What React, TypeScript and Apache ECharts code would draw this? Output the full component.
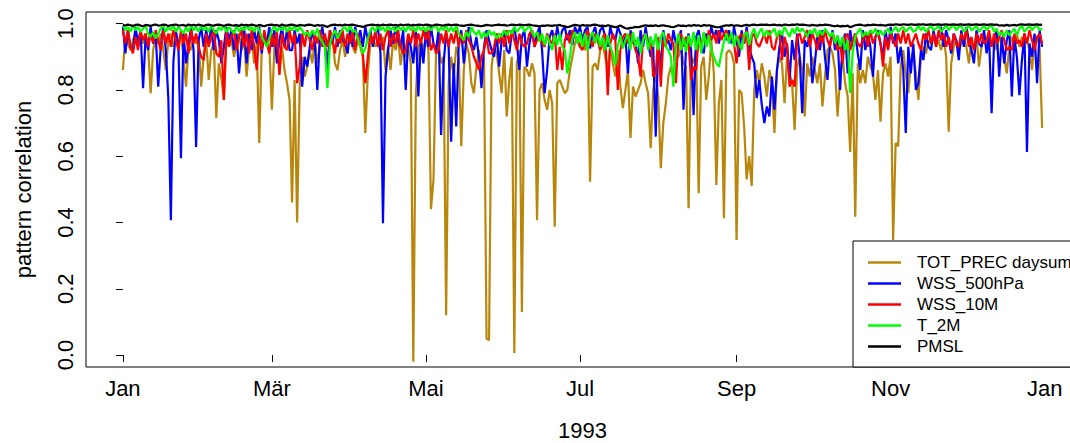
import React, { useEffect, useRef } from "react";
import * as echarts from "echarts";

// x positions are day-of-year indices (0 = 1 Jan 1993)
const tickDays = [0, 59, 120, 181, 243, 304, 365];
const tickLabels = ["Jan", "Mär", "Mai", "Jul", "Sep", "Nov", "Jan"];
const yTicks = [0, 0.2, 0.4, 0.6, 0.8, 1.0];

const totPrec = [
0.86,0.96,0.94,0.92,0.95,0.97,0.93,0.96,0.94,0.97,
0.93,0.79,0.92,0.96,0.94,0.97,0.92,0.86,0.95,0.97,
0.93,0.96,0.94,0.97,0.90,0.81,0.93,0.92,0.96,0.94,
0.95,0.81,0.90,0.95,0.83,0.92,0.94,0.715,0.88,0.835,
0.77,0.96,0.93,0.95,0.90,0.94,0.97,0.92,0.95,0.84,
0.93,0.96,0.88,0.94,0.64,0.93,0.96,0.95,0.93,0.74,
0.93,0.95,0.85,0.93,0.86,0.82,0.77,0.46,0.83,0.40,
0.81,0.90,0.84,0.87,0.92,0.88,0.95,0.88,0.93,0.96,
0.94,0.90,0.93,0.96,0.88,0.86,0.92,0.95,0.90,0.94,
0.96,0.93,0.91,0.95,0.93,0.90,0.67,0.85,0.94,0.96,
0.93,0.95,0.92,0.96,0.86,0.93,0.86,0.95,0.92,0.96,
0.875,0.94,0.90,0.93,0.88,-0.02,0.78,0.93,0.95,0.92,
0.96,0.92,0.44,0.53,0.91,0.94,0.88,0.90,0.12,0.82,
0.90,0.84,0.93,0.90,0.63,0.86,0.94,0.91,0.82,0.79,
0.87,0.92,0.85,0.90,0.05,0.045,0.87,0.93,0.91,0.85,
0.79,0.92,0.72,0.83,0.90,0.006,0.88,0.92,0.13,0.87,
0.86,0.84,0.88,0.85,0.407,0.80,0.82,0.77,0.74,0.80,
0.76,0.387,0.82,0.83,0.81,0.79,0.80,0.86,0.90,0.94,
0.96,0.93,0.95,0.92,0.96,0.523,0.87,0.88,0.86,0.92,
0.94,0.90,0.86,0.93,0.88,0.84,0.92,0.81,0.745,0.80,
0.86,0.655,0.81,0.78,0.80,0.82,0.86,0.82,0.79,0.624,
0.80,0.85,0.78,0.564,0.70,0.76,0.84,0.87,0.84,0.90,
0.90,0.93,0.88,0.87,0.443,0.90,0.88,0.92,0.488,0.87,
0.90,0.77,0.84,0.95,0.85,0.513,0.76,0.83,0.413,0.91,
0.92,0.91,0.88,0.347,0.80,0.79,0.69,0.53,0.60,0.51,
0.80,0.86,0.82,0.88,0.84,0.78,0.86,0.82,0.67,0.86,
0.90,0.88,0.76,0.90,0.85,0.82,0.679,0.87,0.90,0.86,
0.72,0.88,0.84,0.90,0.86,0.82,0.88,0.75,0.84,0.92,
0.93,0.91,0.86,0.72,0.84,0.90,0.82,0.78,0.613,0.85,
0.417,0.88,0.82,0.86,0.82,0.90,0.87,0.85,0.77,0.86,
0.704,0.85,0.88,0.84,0.90,0.347,0.64,0.63,0.87,0.92,
0.85,0.79,0.88,0.92,0.85,0.77,0.90,0.93,0.91,0.95,
0.94,0.96,0.93,0.95,0.92,0.96,0.90,0.674,0.88,0.93,
0.95,0.92,0.94,0.96,0.93,0.88,0.95,0.92,0.96,0.87,
0.93,0.96,0.94,0.97,0.93,0.95,0.92,0.96,0.94,0.90,
0.85,0.93,0.96,0.94,0.97,0.93,0.96,0.94,0.95,0.92,
0.86,0.94,0.96,0.93,0.685,
];

const wss500 = [
0.99,0.91,0.98,0.93,0.92,0.99,0.94,0.98,0.805,0.96,
0.92,0.99,0.94,0.97,0.81,0.93,0.99,0.92,0.775,0.407,
0.885,0.98,0.93,0.594,0.97,0.88,0.94,0.99,0.92,0.628,
0.95,0.99,0.93,0.98,0.94,0.99,0.92,0.98,0.95,0.88,
0.93,0.99,0.95,0.98,0.92,0.97,0.85,0.94,0.99,0.88,
0.97,0.92,0.98,0.94,0.99,0.91,0.97,0.94,0.99,0.93,
0.98,0.88,0.95,0.99,0.93,0.98,0.92,0.92,0.98,0.94,
0.97,0.81,0.90,0.87,0.93,0.98,0.94,0.80,0.96,0.99,
0.93,0.86,0.98,0.94,0.99,0.93,0.98,0.95,0.94,0.91,
0.98,0.93,0.99,0.95,0.98,0.93,0.99,0.95,0.98,0.93,
0.97,0.99,0.91,0.398,0.84,0.92,0.98,0.94,0.99,0.95,
0.93,0.98,0.80,0.96,0.93,0.88,0.98,0.78,0.95,0.88,
0.98,0.93,0.99,0.94,0.92,0.98,0.664,0.88,0.97,0.93,
0.644,0.88,0.69,0.94,0.98,0.88,0.95,0.99,0.94,0.92,
0.96,0.90,0.805,0.93,0.98,0.95,0.92,0.90,0.97,0.87,
0.95,0.98,0.92,0.91,0.97,0.99,0.94,0.86,0.96,0.98,
0.87,0.94,0.98,0.93,0.97,0.99,0.92,0.79,0.86,0.96,
0.98,0.94,0.99,0.95,0.98,0.99,0.95,0.98,0.935,0.99,
0.97,0.99,0.95,0.98,0.99,0.925,0.97,0.99,0.95,0.98,
0.99,0.96,0.93,0.99,0.96,0.95,0.99,0.97,0.94,0.96,
0.85,0.98,0.94,0.95,0.88,0.98,0.93,0.99,0.94,0.90,
0.93,0.659,0.95,0.86,0.98,0.94,0.95,0.92,0.98,0.94,
0.95,0.98,0.74,0.93,0.97,0.92,0.724,0.96,0.98,0.93,
0.91,0.97,0.95,0.99,0.96,0.98,0.94,0.99,0.97,0.95,
0.98,0.94,0.99,0.95,0.90,0.98,0.94,0.99,0.93,0.90,
0.88,0.775,0.83,0.755,0.70,0.75,0.72,0.84,0.74,0.86,
0.93,0.97,0.90,0.94,0.83,0.95,0.89,0.97,0.90,0.73,
0.95,0.93,0.97,0.82,0.88,0.96,0.92,0.98,0.90,0.83,
0.94,0.98,0.92,0.96,0.80,0.94,0.97,0.85,0.98,0.93,
0.97,0.91,0.86,0.98,0.92,0.97,0.93,0.84,0.96,0.98,
0.94,0.90,0.98,0.93,0.99,0.94,0.97,0.88,0.93,0.86,
0.67,0.93,0.85,0.94,0.80,0.82,0.92,0.89,0.97,0.93,
0.92,0.98,0.94,0.97,0.99,0.93,0.98,0.95,0.91,0.97,
0.95,0.89,0.98,0.93,0.99,0.95,0.92,0.88,0.98,0.94,
0.93,0.98,0.91,0.96,0.73,0.95,0.98,0.84,0.96,0.88,
0.95,0.98,0.78,0.96,0.90,0.784,0.89,0.97,0.613,0.94,
0.90,0.97,0.82,0.98,0.93,
];

const wss10 = [
0.98,0.94,0.98,0.93,0.91,0.96,0.92,0.98,0.95,0.97,
0.93,0.97,0.94,0.98,0.95,0.92,0.98,0.94,0.97,0.93,
0.98,0.95,0.92,0.98,0.94,0.97,0.91,0.98,0.94,0.97,
0.93,0.90,0.89,0.97,0.93,0.96,0.98,0.91,0.90,0.95,
0.77,0.98,0.93,0.96,0.98,0.92,0.96,0.98,0.93,0.97,
0.91,0.98,0.93,0.86,0.97,0.92,0.98,0.94,0.91,0.97,
0.93,0.98,0.845,0.97,0.93,0.92,0.98,0.94,0.97,0.82,
0.87,0.97,0.93,0.98,0.95,0.92,0.97,0.94,0.98,0.93,
0.97,0.93,0.98,0.95,0.91,0.97,0.94,0.98,0.93,0.97,
0.94,0.98,0.92,0.97,0.94,0.91,0.82,0.90,0.97,0.94,
0.98,0.93,0.97,0.92,0.96,0.98,0.93,0.97,0.94,0.98,
0.93,0.91,0.92,0.97,0.94,0.98,0.93,0.97,0.94,0.98,
0.95,0.98,0.92,0.94,0.91,0.92,0.97,0.94,0.98,0.93,
0.97,0.94,0.98,0.93,0.97,0.94,0.98,0.95,0.93,0.90,
0.88,0.86,0.90,0.92,0.96,0.91,0.91,0.93,0.97,0.94,
0.97,0.93,0.98,0.94,0.98,0.95,0.92,0.97,0.94,0.93,
0.94,0.97,0.98,0.93,0.95,0.97,0.94,0.93,0.97,0.95,
0.94,0.97,0.86,0.93,0.86,0.95,0.97,0.94,0.98,0.96,
0.95,0.93,0.92,0.96,0.98,0.95,0.93,0.97,0.95,0.92,
0.96,0.97,0.784,0.94,0.97,0.95,0.80,0.92,0.96,0.97,
0.94,0.97,0.95,0.92,0.90,0.84,0.96,0.97,0.93,0.96,
0.84,0.85,0.96,0.81,0.95,0.93,0.97,0.95,0.94,0.82,
0.96,0.97,0.93,0.96,0.94,0.83,0.87,0.86,0.96,0.93,
0.97,0.93,0.98,0.95,0.97,0.94,0.98,0.95,0.97,0.98,
0.95,0.97,0.94,0.88,0.96,0.97,0.94,0.98,0.86,0.96,
0.97,0.94,0.93,0.95,0.97,0.94,0.98,0.93,0.92,0.96,
0.97,0.89,0.96,0.93,0.81,0.83,0.81,0.96,0.97,0.94,
0.96,0.98,0.93,0.97,0.95,0.92,0.97,0.94,0.98,0.95,
0.93,0.97,0.95,0.92,0.94,0.88,0.96,0.97,0.92,0.95,
0.97,0.94,0.93,0.95,0.97,0.93,0.98,0.94,0.96,0.97,
0.94,0.87,0.96,0.92,0.97,0.95,0.93,0.97,0.94,0.98,
0.94,0.97,0.93,0.95,0.97,0.94,0.92,0.97,0.95,0.98,
0.94,0.97,0.93,0.98,0.95,0.97,0.93,0.96,0.92,0.97,
0.94,0.93,0.97,0.95,0.98,0.93,0.96,0.92,0.97,0.94,
0.97,0.94,0.95,0.98,0.93,0.97,0.94,0.96,0.98,0.95,
0.92,0.93,0.92,0.97,0.94,0.95,0.93,0.97,0.94,0.98,
0.95,0.92,0.96,0.97,0.94,
];

const t2m = [
0.995,0.98,0.99,0.975,0.995,0.98,0.99,0.975,0.985,0.995,
0.97,0.96,0.975,0.955,0.97,0.985,0.995,0.975,0.99,0.98,
0.995,0.975,0.99,0.98,0.97,0.99,0.975,0.995,0.98,0.99,
0.975,0.995,0.98,0.99,0.975,0.995,0.98,0.97,0.99,0.98,
0.995,0.975,0.99,0.98,0.97,0.995,0.975,0.99,0.98,0.995,
0.98,0.99,0.975,0.995,0.98,0.96,0.945,0.93,0.955,0.98,
0.995,0.975,0.99,0.98,0.995,0.975,0.99,0.98,0.995,0.975,
0.99,0.98,0.965,0.975,0.96,0.98,0.965,0.985,0.955,0.945,
0.93,0.805,0.94,0.965,0.98,0.955,0.97,0.985,0.99,0.975,
0.995,0.975,0.98,0.955,0.935,0.91,0.925,0.955,0.98,0.99,
0.975,0.995,0.98,0.99,0.975,0.995,0.98,0.99,0.975,0.995,
0.98,0.99,0.975,0.995,0.98,0.99,0.975,0.995,0.98,0.99,
0.975,0.995,0.98,0.99,0.995,0.975,0.99,0.98,0.995,0.975,
0.99,0.975,0.995,0.97,0.96,0.95,0.975,0.96,0.99,0.975,
0.965,0.98,0.955,0.975,0.96,0.98,0.965,0.975,0.955,0.97,
0.96,0.98,0.965,0.98,0.97,0.99,0.975,0.985,0.995,0.975,
0.985,0.995,0.975,0.96,0.975,0.945,0.97,0.935,0.965,0.94,
0.92,0.965,0.935,0.97,0.93,0.92,0.85,0.90,0.955,0.975,
0.94,0.975,0.93,0.97,0.92,0.96,0.975,0.94,0.97,0.93,
0.96,0.92,0.965,0.93,0.91,0.875,0.935,0.965,0.925,0.95,
0.97,0.92,0.975,0.93,0.96,0.91,0.95,0.97,0.92,0.96,
0.93,0.97,0.92,0.96,0.975,0.93,0.92,0.90,0.81,0.935,
0.97,0.92,0.96,0.915,0.965,0.93,0.975,0.92,0.965,0.91,
0.975,0.93,0.965,0.92,0.90,0.88,0.87,0.91,0.945,0.97,
0.94,0.975,0.93,0.965,0.94,0.92,0.965,0.975,0.935,0.97,
0.985,0.955,0.975,0.985,0.96,0.98,0.965,0.975,0.985,0.96,
0.98,0.965,0.99,0.975,0.96,0.985,0.97,0.99,0.975,0.985,
0.975,0.96,0.98,0.97,0.985,0.96,0.98,0.965,0.985,0.975,
0.96,0.975,0.94,0.965,0.93,0.96,0.92,0.95,0.79,0.915,
0.96,0.975,0.985,0.96,0.975,0.965,0.98,0.97,0.985,0.965,
0.98,0.965,0.975,0.985,0.97,0.98,0.99,0.975,0.985,0.99,
0.975,0.985,0.99,0.975,0.98,0.995,0.98,0.99,0.975,0.985,
0.995,0.98,0.985,0.995,0.975,0.985,0.995,0.98,0.99,0.995,
0.98,0.99,0.995,0.975,0.985,0.995,0.98,0.985,0.995,0.975,
0.985,0.995,0.98,0.99,0.995,0.975,0.985,0.965,0.975,0.96,
0.98,0.965,0.975,0.985,0.965,0.985,0.995,0.975,0.985,0.995,
0.98,0.99,0.995,0.98,0.985,
];

const pmsl = [
0.996,0.994,0.997,0.995,0.993,0.996,0.997,0.994,0.992,0.996,
0.995,0.993,0.996,0.997,0.994,0.995,0.997,0.996,0.993,0.995,
0.996,0.997,0.994,0.995,0.996,0.993,0.997,0.995,0.996,0.994,
0.997,0.995,0.993,0.996,0.997,0.995,0.994,0.996,0.997,0.995,
0.993,0.996,0.997,0.995,0.994,0.996,0.993,0.997,0.995,0.996,
0.994,0.997,0.995,0.993,0.996,0.994,0.992,0.995,0.996,0.997,
0.995,0.996,0.993,0.997,0.995,0.994,0.996,0.997,0.995,0.993,
0.996,0.995,0.994,0.996,0.997,0.995,0.993,0.996,0.994,0.995,
0.993,0.99,0.994,0.996,0.997,0.995,0.996,0.994,0.997,0.995,
0.996,0.997,0.995,0.993,0.992,0.99,0.993,0.995,0.996,0.997,
0.995,0.996,0.994,0.997,0.995,0.996,0.997,0.995,0.996,0.994,
0.997,0.995,0.996,0.997,0.994,0.996,0.995,0.997,0.996,0.995,
0.997,0.996,0.994,0.995,0.997,0.996,0.995,0.994,0.996,0.997,
0.995,0.996,0.997,0.995,0.994,0.993,0.995,0.996,0.997,0.995,
0.994,0.993,0.992,0.994,0.996,0.995,0.994,0.995,0.996,0.997,
0.995,0.996,0.994,0.995,0.997,0.996,0.995,0.997,0.996,0.995,
0.996,0.997,0.995,0.994,0.993,0.992,0.994,0.993,0.995,0.994,
0.993,0.995,0.994,0.996,0.993,0.992,0.989,0.991,0.994,0.996,
0.995,0.993,0.996,0.994,0.995,0.994,0.996,0.997,0.995,0.993,
0.994,0.992,0.995,0.993,0.991,0.989,0.991,0.994,0.99,0.986,
0.985,0.987,0.988,0.99,0.989,0.991,0.993,0.995,0.993,0.994,
0.993,0.995,0.992,0.994,0.995,0.993,0.992,0.99,0.989,0.992,
0.995,0.993,0.994,0.992,0.995,0.993,0.996,0.994,0.995,0.992,
0.996,0.994,0.995,0.993,0.991,0.989,0.989,0.991,0.993,0.995,
0.994,0.996,0.993,0.995,0.994,0.992,0.995,0.996,0.994,0.996,
0.997,0.995,0.996,0.997,0.996,0.997,0.995,0.996,0.997,0.995,
0.996,0.994,0.997,0.996,0.995,0.997,0.996,0.998,0.996,0.997,
0.996,0.995,0.994,0.996,0.995,0.994,0.996,0.995,0.997,0.996,
0.995,0.993,0.992,0.994,0.991,0.993,0.992,0.994,0.989,0.992,
0.995,0.996,0.997,0.995,0.994,0.996,0.995,0.997,0.996,0.995,
0.996,0.995,0.994,0.996,0.997,0.996,0.998,0.997,0.996,0.998,
0.997,0.996,0.998,0.997,0.996,0.998,0.997,0.998,0.996,0.997,
0.998,0.996,0.997,0.998,0.996,0.997,0.998,0.996,0.997,0.998,
0.996,0.997,0.998,0.996,0.997,0.998,0.996,0.997,0.998,0.996,
0.997,0.998,0.996,0.997,0.998,0.996,0.997,0.994,0.995,0.994,
0.996,0.994,0.995,0.996,0.994,0.997,0.998,0.996,0.997,0.998,
0.996,0.997,0.998,0.996,0.997,
];

const seriesDefs = [
  { name: "TOT_PREC daysum", color: "#B8860B", values: totPrec },
  { name: "WSS_500hPa", color: "#0000FF", values: wss500 },
  { name: "WSS_10M", color: "#FF0000", values: wss10 },
  { name: "T_2M", color: "#00FF00", values: t2m },
  { name: "PMSL", color: "#000000", values: pmsl },
];

const FONT = "'Liberation Sans', Arial, Helvetica, sans-serif";

export default function App() {
  const ref = useRef<HTMLDivElement>(null);

  useEffect(() => {
    if (!ref.current) return;
    const chart = echarts.init(ref.current, null, { renderer: "svg" });
    const option: any = {
      animation: false,
      backgroundColor: "#ffffff",
      textStyle: { fontFamily: FONT },
      grid: {
        left: 86,
        top: 12,
        width: 993,
        height: 355,
        show: true,
        borderColor: "#000",
        borderWidth: 1,
        backgroundColor: "transparent",
        containLabel: false,
        outerBoundsMode: "none",
      },
      xAxis: {
        type: "value",
        min: -14.6,
        max: 378.6,
        name: "1993",
        nameLocation: "middle",
        nameGap: 52,
        nameTextStyle: { fontSize: 22, color: "#000", fontFamily: FONT },
        axisLine: { show: false },
        splitLine: { show: false },
        axisTick: {
          show: true,
          inside: false,
          length: 7,
          customValues: tickDays,
          lineStyle: { color: "#000", width: 1 },
        },
        axisLabel: {
          customValues: tickDays,
          formatter: (v: number) => {
            const i = tickDays.indexOf(Math.round(v));
            return i >= 0 ? tickLabels[i] : "";
          },
          fontSize: 22,
          color: "#000",
          fontFamily: FONT,
          margin: 10,
          showMinLabel: true,
          showMaxLabel: true,
        },
      },
      yAxis: {
        type: "value",
        min: -0.036,
        max: 1.035,
        name: "pattern correlation",
        nameLocation: "middle",
        nameRotate: 90,
        nameGap: 52,
        nameTextStyle: { fontSize: 22, color: "#000", fontFamily: FONT },
        axisLine: { show: false },
        splitLine: { show: false },
        axisTick: {
          show: true,
          inside: false,
          length: 7,
          customValues: yTicks,
          lineStyle: { color: "#000", width: 1 },
        },
        axisLabel: {
          customValues: yTicks,
          formatter: (v: number) => v.toFixed(1),
          rotate: 90,
          fontSize: 22,
          color: "#000",
          fontFamily: FONT,
          margin: 10,
        },
      },
      legend: {
        show: true,
        orient: "vertical",
        left: 853,
        top: 241,
        padding: [11, 10, 10, 15],
        itemGap: 0,
        itemWidth: 33,
        itemHeight: 2.5,
        icon: "rect",
        backgroundColor: "#ffffff",
        borderColor: "#000",
        borderWidth: 1,
        borderRadius: 0,
        textStyle: {
          fontSize: 17,
          lineHeight: 21,
          color: "#000",
          fontFamily: FONT,
          padding: [0, 0, 0, 11],
        },
        data: seriesDefs.map((s) => s.name),
      },
      series: seriesDefs.map((s) => ({
        name: s.name,
        type: "line",
        showSymbol: false,
        symbol: "none",
        silent: true,
        color: s.color,
        lineStyle: { color: s.color, width: 2.2 },
        data: s.values.map((v, i) => [i, v]),
      })),
    };
    chart.setOption(option);
    return () => {
      chart.dispose();
    };
  }, []);

  return (
    <div
      ref={ref}
      style={{ position: "fixed", left: 0, top: 0, width: 1070, height: 443, background: "#fff" }}
    />
  );
}
